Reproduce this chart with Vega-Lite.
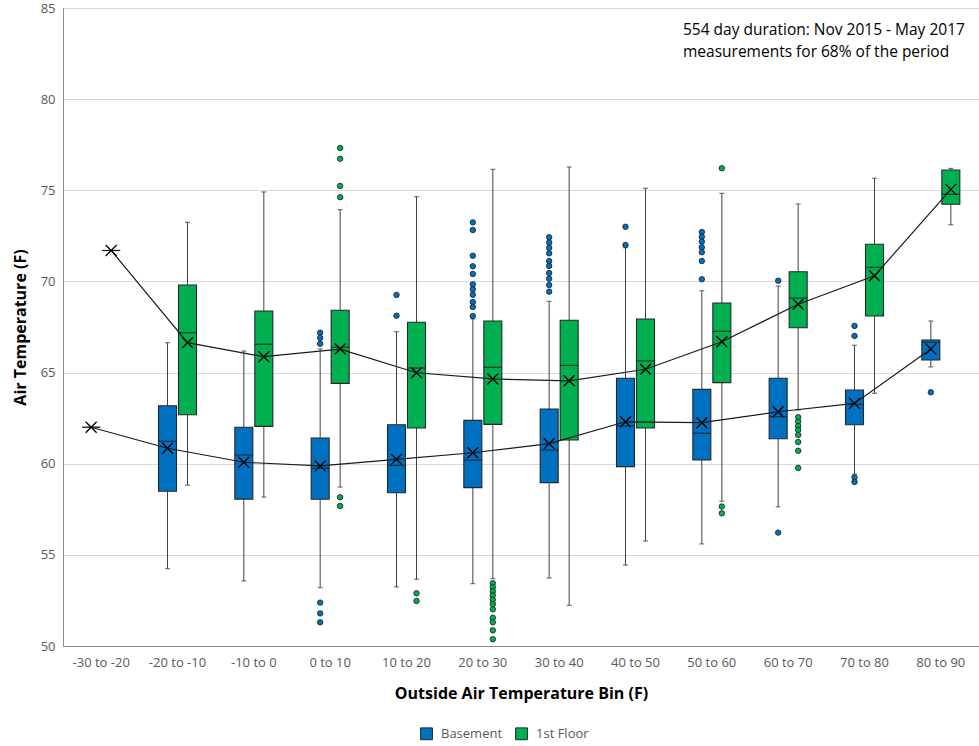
{
  "$schema": "https://vega.github.io/schema/vega-lite/v6.json",
  "width": 916,
  "height": 638,
  "autosize": {"type": "none"},
  "padding": {"left": 63, "top": 8, "right": 0, "bottom": 100},
  "config": {
    "font": "Open Sans",
    "view": {"stroke": "#8c8c8c", "strokeWidth": 1},
    "axis": {"labelFont": "Open Sans", "titleFont": "Open Sans"}
  },
  "title": {
    "text": ["554 day duration: Nov 2015 - May 2017", "measurements for 68% of the period"],
    "anchor": "start",
    "frame": "group",
    "dx": 620,
    "offset": -58,
    "fontSize": 15.5,
    "fontWeight": "normal",
    "color": "#000000",
    "lineHeight": 22,
    "font": "Open Sans"
  },
  "datasets": {
    "stats": [
      {"bin": "-30 to -20", "series": "Basement", "low": 62.0, "q1": 62.0, "median": 62.0, "q3": 62.0, "high": 62.0, "mean": 62.0},
      {"bin": "-30 to -20", "series": "1st Floor", "low": 71.7, "q1": 71.7, "median": 71.7, "q3": 71.7, "high": 71.7, "mean": 71.7},
      {"bin": "-20 to -10", "series": "Basement", "low": 54.24, "q1": 58.49, "median": 61.23, "q3": 63.18, "high": 66.64, "mean": 60.85},
      {"bin": "-20 to -10", "series": "1st Floor", "low": 58.82, "q1": 62.69, "median": 67.19, "q3": 69.8, "high": 73.24, "mean": 66.64},
      {"bin": "-10 to 0", "series": "Basement", "low": 53.57, "q1": 58.06, "median": 60.48, "q3": 62.0, "high": 66.18, "mean": 60.08},
      {"bin": "-10 to 0", "series": "1st Floor", "low": 58.17, "q1": 62.05, "median": 66.55, "q3": 68.38, "high": 74.91, "mean": 65.87},
      {"bin": "0 to 10", "series": "Basement", "low": 53.2, "q1": 58.05, "median": 59.75, "q3": 61.41, "high": 66.3, "mean": 59.88},
      {"bin": "0 to 10", "series": "1st Floor", "low": 58.72, "q1": 64.41, "median": 66.39, "q3": 68.42, "high": 73.94, "mean": 66.29},
      {"bin": "10 to 20", "series": "Basement", "low": 53.24, "q1": 58.41, "median": 59.91, "q3": 62.14, "high": 67.24, "mean": 60.24},
      {"bin": "10 to 20", "series": "1st Floor", "low": 53.66, "q1": 61.96, "median": 65.25, "q3": 67.76, "high": 74.65, "mean": 64.99},
      {"bin": "20 to 30", "series": "Basement", "low": 53.42, "q1": 58.69, "median": 60.19, "q3": 62.38, "high": 67.95, "mean": 60.6},
      {"bin": "20 to 30", "series": "1st Floor", "low": 53.69, "q1": 62.16, "median": 65.29, "q3": 67.83, "high": 76.15, "mean": 64.65},
      {"bin": "30 to 40", "series": "Basement", "low": 53.73, "q1": 58.96, "median": 60.75, "q3": 63.0, "high": 68.91, "mean": 61.1},
      {"bin": "30 to 40", "series": "1st Floor", "low": 52.23, "q1": 61.3, "median": 65.4, "q3": 67.87, "high": 76.28, "mean": 64.55},
      {"bin": "40 to 50", "series": "Basement", "low": 54.44, "q1": 59.84, "median": 62.07, "q3": 64.69, "high": 71.85, "mean": 62.3},
      {"bin": "40 to 50", "series": "1st Floor", "low": 55.76, "q1": 61.96, "median": 65.64, "q3": 67.94, "high": 75.11, "mean": 65.18},
      {"bin": "50 to 60", "series": "Basement", "low": 55.6, "q1": 60.2, "median": 61.67, "q3": 64.08, "high": 69.49, "mean": 62.25},
      {"bin": "50 to 60", "series": "1st Floor", "low": 57.94, "q1": 64.45, "median": 67.26, "q3": 68.82, "high": 74.83, "mean": 66.69},
      {"bin": "60 to 70", "series": "Basement", "low": 57.64, "q1": 61.37, "median": 62.58, "q3": 64.69, "high": 69.75, "mean": 62.85},
      {"bin": "60 to 70", "series": "1st Floor", "low": 62.95, "q1": 67.46, "median": 69.09, "q3": 70.53, "high": 74.25, "mean": 68.75},
      {"bin": "70 to 80", "series": "Basement", "low": 59.42, "q1": 62.14, "median": 63.26, "q3": 64.04, "high": 66.5, "mean": 63.31},
      {"bin": "70 to 80", "series": "1st Floor", "low": 63.86, "q1": 68.1, "median": 70.77, "q3": 72.04, "high": 75.66, "mean": 70.31},
      {"bin": "80 to 90", "series": "Basement", "low": 65.31, "q1": 65.69, "median": 66.66, "q3": 66.79, "high": 67.83, "mean": 66.29},
      {"bin": "80 to 90", "series": "1st Floor", "low": 73.11, "q1": 74.23, "median": 74.78, "q3": 76.11, "high": 76.2, "mean": 75.05}
    ],
    "outliers": [
      {"bin": "0 to 10", "series": "Basement", "value": 67.19},
      {"bin": "0 to 10", "series": "Basement", "value": 66.9},
      {"bin": "0 to 10", "series": "Basement", "value": 66.58},
      {"bin": "0 to 10", "series": "Basement", "value": 52.38},
      {"bin": "0 to 10", "series": "Basement", "value": 51.79},
      {"bin": "0 to 10", "series": "Basement", "value": 51.3},
      {"bin": "0 to 10", "series": "1st Floor", "value": 77.32},
      {"bin": "0 to 10", "series": "1st Floor", "value": 76.73},
      {"bin": "0 to 10", "series": "1st Floor", "value": 75.24},
      {"bin": "0 to 10", "series": "1st Floor", "value": 74.62},
      {"bin": "0 to 10", "series": "1st Floor", "value": 58.16},
      {"bin": "0 to 10", "series": "1st Floor", "value": 57.68},
      {"bin": "10 to 20", "series": "Basement", "value": 69.26},
      {"bin": "10 to 20", "series": "Basement", "value": 68.12},
      {"bin": "10 to 20", "series": "1st Floor", "value": 52.89},
      {"bin": "10 to 20", "series": "1st Floor", "value": 52.47},
      {"bin": "20 to 30", "series": "Basement", "value": 73.24},
      {"bin": "20 to 30", "series": "Basement", "value": 72.82},
      {"bin": "20 to 30", "series": "Basement", "value": 71.41},
      {"bin": "20 to 30", "series": "Basement", "value": 70.83},
      {"bin": "20 to 30", "series": "Basement", "value": 70.41},
      {"bin": "20 to 30", "series": "Basement", "value": 69.84},
      {"bin": "20 to 30", "series": "Basement", "value": 69.57},
      {"bin": "20 to 30", "series": "Basement", "value": 69.27},
      {"bin": "20 to 30", "series": "Basement", "value": 68.87},
      {"bin": "20 to 30", "series": "Basement", "value": 68.6},
      {"bin": "20 to 30", "series": "Basement", "value": 68.1},
      {"bin": "20 to 30", "series": "1st Floor", "value": 53.44},
      {"bin": "20 to 30", "series": "1st Floor", "value": 53.22},
      {"bin": "20 to 30", "series": "1st Floor", "value": 53.0},
      {"bin": "20 to 30", "series": "1st Floor", "value": 52.78},
      {"bin": "20 to 30", "series": "1st Floor", "value": 52.54},
      {"bin": "20 to 30", "series": "1st Floor", "value": 52.3},
      {"bin": "20 to 30", "series": "1st Floor", "value": 52.01},
      {"bin": "20 to 30", "series": "1st Floor", "value": 51.55},
      {"bin": "20 to 30", "series": "1st Floor", "value": 51.3},
      {"bin": "20 to 30", "series": "1st Floor", "value": 50.86},
      {"bin": "20 to 30", "series": "1st Floor", "value": 50.37},
      {"bin": "30 to 40", "series": "Basement", "value": 72.42},
      {"bin": "30 to 40", "series": "Basement", "value": 72.13},
      {"bin": "30 to 40", "series": "Basement", "value": 71.85},
      {"bin": "30 to 40", "series": "Basement", "value": 71.54},
      {"bin": "30 to 40", "series": "Basement", "value": 71.12},
      {"bin": "30 to 40", "series": "Basement", "value": 70.85},
      {"bin": "30 to 40", "series": "Basement", "value": 70.46},
      {"bin": "30 to 40", "series": "Basement", "value": 70.15},
      {"bin": "30 to 40", "series": "Basement", "value": 69.8},
      {"bin": "30 to 40", "series": "Basement", "value": 69.44},
      {"bin": "40 to 50", "series": "Basement", "value": 73.0},
      {"bin": "40 to 50", "series": "Basement", "value": 72.0},
      {"bin": "50 to 60", "series": "Basement", "value": 72.71},
      {"bin": "50 to 60", "series": "Basement", "value": 72.45},
      {"bin": "50 to 60", "series": "Basement", "value": 72.18},
      {"bin": "50 to 60", "series": "Basement", "value": 71.87},
      {"bin": "50 to 60", "series": "Basement", "value": 71.6},
      {"bin": "50 to 60", "series": "Basement", "value": 71.12},
      {"bin": "50 to 60", "series": "Basement", "value": 70.12},
      {"bin": "50 to 60", "series": "1st Floor", "value": 76.21},
      {"bin": "50 to 60", "series": "1st Floor", "value": 57.65},
      {"bin": "50 to 60", "series": "1st Floor", "value": 57.28},
      {"bin": "60 to 70", "series": "Basement", "value": 70.04},
      {"bin": "60 to 70", "series": "Basement", "value": 56.22},
      {"bin": "60 to 70", "series": "1st Floor", "value": 62.55},
      {"bin": "60 to 70", "series": "1st Floor", "value": 62.31},
      {"bin": "60 to 70", "series": "1st Floor", "value": 62.07},
      {"bin": "60 to 70", "series": "1st Floor", "value": 61.85},
      {"bin": "60 to 70", "series": "1st Floor", "value": 61.58},
      {"bin": "60 to 70", "series": "1st Floor", "value": 61.19},
      {"bin": "60 to 70", "series": "1st Floor", "value": 60.71},
      {"bin": "60 to 70", "series": "1st Floor", "value": 59.77},
      {"bin": "70 to 80", "series": "Basement", "value": 67.56},
      {"bin": "70 to 80", "series": "Basement", "value": 67.01},
      {"bin": "70 to 80", "series": "Basement", "value": 59.25},
      {"bin": "70 to 80", "series": "Basement", "value": 59.0},
      {"bin": "80 to 90", "series": "Basement", "value": 63.92}
    ]
  },
  "encoding": {
    "x": {
      "field": "bin",
      "type": "nominal",
      "sort": ["-30 to -20", "-20 to -10", "-10 to 0", "0 to 10", "10 to 20", "20 to 30", "30 to 40", "40 to 50", "50 to 60", "60 to 70", "70 to 80", "80 to 90"],
      "scale": {"paddingInner": 0, "paddingOuter": 0},
      "axis": {
        "title": "Outside Air Temperature Bin (F)",
        "labelAngle": 0,
        "ticks": false,
        "domainColor": "#8c8c8c",
        "labelColor": "#595959",
        "labelFontSize": 13,
        "labelPadding": 10,
        "titleFontSize": 16,
        "titleFontWeight": "bold",
        "titleColor": "#000000",
        "titlePadding": 16
      }
    },
    "xOffset": {
      "field": "series",
      "type": "nominal",
      "sort": ["Basement", "1st Floor"],
      "scale": {"paddingInner": 0, "paddingOuter": 0.908}
    }
  },
  "layer": [
    {
      "data": {"name": "stats"},
      "mark": {"type": "rule", "color": "#404040", "strokeWidth": 1},
      "encoding": {
        "y": {
          "field": "low",
          "type": "quantitative",
          "scale": {"domain": [50, 85], "nice": false, "zero": false},
          "axis": {
            "title": "Air Temperature (F)",
            "values": [50, 55, 60, 65, 70, 75, 80, 85],
            "grid": true,
            "gridColor": "#d9d9d9",
            "ticks": false,
            "domainColor": "#8c8c8c",
            "labelColor": "#595959",
            "labelFontSize": 13,
            "labelPadding": 8,
            "titleFontSize": 16,
            "titleFontWeight": "bold",
            "titleColor": "#000000",
            "titlePadding": 12
          }
        },
        "y2": {"field": "high"}
      }
    },
    {
      "data": {"name": "stats"},
      "mark": {"type": "tick", "color": "#404040", "size": 5, "thickness": 1.2},
      "encoding": {"y": {"field": "low", "type": "quantitative"}}
    },
    {
      "data": {"name": "stats"},
      "mark": {"type": "tick", "color": "#404040", "size": 5, "thickness": 1.2},
      "encoding": {"y": {"field": "high", "type": "quantitative"}}
    },
    {
      "data": {"name": "stats"},
      "mark": {"type": "bar", "width": 18, "stroke": "#262626", "strokeWidth": 1.1},
      "encoding": {
        "y": {"field": "q1", "type": "quantitative"},
        "y2": {"field": "q3"},
        "fill": {
          "field": "series",
          "type": "nominal",
          "sort": ["Basement", "1st Floor"],
          "scale": {"domain": ["Basement", "1st Floor"], "range": ["#0070C0", "#00B050"]},
          "legend": {
            "title": null,
            "orient": "none",
            "legendX": 357,
            "legendY": 719,
            "direction": "horizontal",
            "symbolType": "square",
            "symbolSize": 140,
            "symbolStrokeColor": "#262626",
            "symbolStrokeWidth": 1,
            "labelFontSize": 13,
            "labelColor": "#595959",
            "labelOffset": 8,
            "columnPadding": 10
          }
        }
      }
    },
    {
      "data": {"name": "stats"},
      "mark": {"type": "tick", "color": "#1a1a1a", "size": 18, "thickness": 1.3},
      "encoding": {"y": {"field": "median", "type": "quantitative"}}
    },
    {
      "data": {"name": "stats"},
      "mark": {"type": "line", "color": "#1a1a1a", "strokeWidth": 1.2, "interpolate": "linear"},
      "encoding": {
        "y": {"field": "mean", "type": "quantitative"},
        "detail": {"field": "series", "type": "nominal"}
      }
    },
    {
      "data": {"name": "stats"},
      "mark": {"type": "point", "shape": "M-1,-1L1,1M-1,1L1,-1", "filled": false, "stroke": "#000000", "strokeWidth": 1.3, "size": 120, "opacity": 1},
      "encoding": {"y": {"field": "mean", "type": "quantitative"}}
    },
    {
      "data": {"name": "outliers"},
      "mark": {"type": "point", "filled": true, "shape": "circle", "size": 30, "stroke": "#1a1a1a", "strokeWidth": 0.8, "opacity": 1},
      "encoding": {
        "y": {"field": "value", "type": "quantitative"},
        "fill": {"field": "series", "type": "nominal", "legend": null}
      }
    }
  ]
}
